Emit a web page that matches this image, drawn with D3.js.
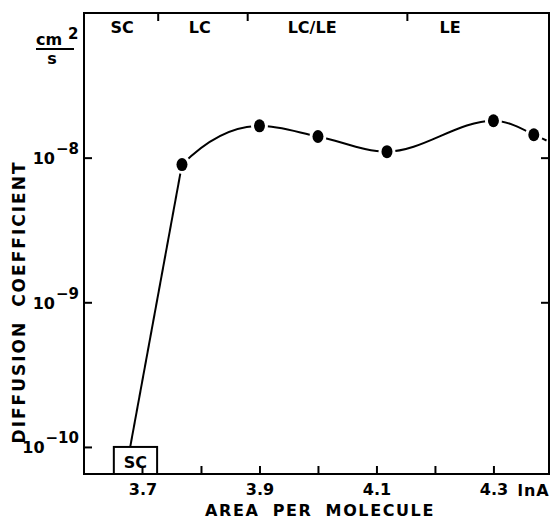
<!DOCTYPE html>
<html>
<head>
<meta charset="utf-8">
<script src="https://cdn.jsdelivr.net/npm/d3@7"></script>
<style>
body { margin: 0; background: #fff; }
text { font-family: "DejaVu Sans", sans-serif; font-weight: bold; fill: #000; }
.axis path { display: none; }
.axis line { stroke: #000; stroke-width: 2px; }
</style>
</head>
<body>
<svg width="554" height="519"></svg>
<script>

// measured points (lnA, D in cm^2/s)
var areaLn = [3.7675, 3.9, 4.0, 4.118, 4.3, 4.369];
var diffCoef = [8.95e-9, 1.66e-8, 1.40e-8, 1.10e-8, 1.80e-8, 1.44e-8];

// solid condensed point (boxed "SC") and the dashed tail going off the right edge
var scPoint = [3.679, 1e-10];
var tailPoint = [4.395, 1.29e-8];

var phaseBounds = [3.726, 3.879, 4.152];
var phaseNames = ["SC", "LC", "LC/LE", "LE"];
var phasePos = [3.665, 3.798, 3.99, 4.226];

var xTicks = [3.7, 3.8, 3.9, 4.0, 4.1, 4.2, 4.3];
var xLabelled = [3.7, 3.9, 4.1, 4.3];
var yTicks = [1e-10, 1e-9, 1e-8];

var svg = d3.select("svg");
var pl = 84, pr = 549, pt = 13, pb = 474;

var x = d3.scaleLinear().domain([3.6, 4.395]).range([pl, pr]);
var y = d3.scaleLog().domain([6.5e-11, 1e-7]).range([pb, pt]);

// frame
svg.append("rect")
    .attr("x", pl).attr("y", pt)
    .attr("width", pr - pl).attr("height", pb - pt)
    .attr("fill", "none").attr("stroke", "#000").attr("stroke-width", 2);

// bottom axis, ticks inward
var xa = svg.append("g").attr("class", "axis")
    .attr("transform", "translate(0," + pb + ")")
    .call(d3.axisBottom(x).tickValues(xTicks).tickSize(-8).tickPadding(10)
      .tickFormat(function(d) { return xLabelled.some(function(v) { return Math.abs(v - d) < 1e-6; }) ? d3.format(".1f")(d) : ""; }));
xa.selectAll("text").attr("font-size", 16).attr("fill", "#000");

svg.append("text")
    .attr("x", x(4.3) + 24).attr("y", 496)
    .attr("font-size", 16)
    .attr("letter-spacing", 1)
    .text("lnA");

// top axis: phase boundaries
svg.append("g").attr("class", "axis")
    .attr("transform", "translate(0," + pt + ")")
    .call(d3.axisTop(x).tickValues(phaseBounds).tickSize(-8).tickFormat(""));

svg.selectAll(".phase")
    .data(phaseNames)
    .enter().append("text")
      .attr("class", "phase")
      .attr("x", function(d, i) { return x(phasePos[i]); })
      .attr("y", 33)
      .attr("text-anchor", "middle")
      .attr("font-size", 16)
      .text(function(d) { return d; });

// left axis
var ya = svg.append("g").attr("class", "axis")
    .attr("transform", "translate(" + pl + ",0)")
    .call(d3.axisLeft(y).tickValues(yTicks).tickSize(-8).tickFormat(""));

ya.selectAll(".tick").each(function(d) {
  var g = d3.select(this);
  var sup = g.append("text")
      .attr("y", -4)
      .attr("text-anchor", "start")
      .attr("font-size", 15)
      .text("\u2212" + Math.round(-Math.log10(d)));
  var w = sup.node().getComputedTextLength();
  var xEnd = -5 - w;
  sup.attr("x", xEnd);
  g.append("text")
      .attr("x", xEnd - 1).attr("y", 6)
      .attr("text-anchor", "end")
      .attr("font-size", 16)
      .text("10");
});

// right axis
svg.append("g").attr("class", "axis")
    .attr("transform", "translate(" + pr + ",0)")
    .call(d3.axisRight(y).tickValues(yTicks.slice(1)).tickSize(-8).tickFormat(""));

// unit cm2/s
svg.append("text").attr("x", 36).attr("y", 45).attr("font-size", 16).text("cm");
svg.append("text").attr("x", 68).attr("y", 39).attr("font-size", 15).text("2");
svg.append("line").attr("x1", 36).attr("x2", 74).attr("y1", 49).attr("y2", 49)
    .attr("stroke", "#000").attr("stroke-width", 2);
svg.append("text").attr("x", 52).attr("y", 64).attr("font-size", 16)
    .attr("text-anchor", "middle").text("s");

// axis titles
svg.append("text")
    .attr("transform", "translate(25,302) rotate(-90)")
    .attr("text-anchor", "middle")
    .attr("font-size", 17)
    .attr("letter-spacing", 2)
    .attr("word-spacing", 6)
    .text("DIFFUSION COEFFICIENT");

svg.append("text")
    .attr("x", 320).attr("y", 516)
    .attr("text-anchor", "middle")
    .attr("font-size", 16)
    .attr("letter-spacing", 1.6)
    .attr("word-spacing", 6)
    .text("AREA PER MOLECULE");

// SC box
var box = svg.append("g");
box.append("rect")
    .attr("x", x(3.651)).attr("y", y(scPoint[1]))
    .attr("width", x(3.725) - x(3.651)).attr("height", pb - y(scPoint[1]))
    .attr("fill", "#fff").attr("stroke", "#000").attr("stroke-width", 2);
box.append("text")
    .attr("x", (x(3.651) + x(3.725)) / 2).attr("y", 468)
    .attr("text-anchor", "middle").attr("font-size", 16)
    .text("SC");
// tick through box bottom again
svg.append("line")
    .attr("x1", x(3.7)).attr("x2", x(3.7))
    .attr("y1", pb).attr("y2", pb - 8)
    .attr("stroke", "#000").attr("stroke-width", 2);

var pts = areaLn.map(function(a, i) { return [a, diffCoef[i]]; });

var lineLin = d3.line()
    .x(function(d) { return x(d[0]); })
    .y(function(d) { return y(d[1]); });
var lineSmooth = d3.line()
    .x(function(d) { return x(d[0]); })
    .y(function(d) { return y(d[1]); })
    .curve(d3.curveMonotoneX);

// straight rise from the SC point to the first LC point
svg.append("path")
    .attr("d", lineLin([scPoint, pts[0]]))
    .attr("fill", "none").attr("stroke", "#000").attr("stroke-width", 2);

// smooth curve through all points, shown only from the first LC point on
svg.append("clipPath").attr("id", "fromLC")
  .append("rect")
    .attr("x", x(pts[0][0])).attr("y", pt)
    .attr("width", pr - x(pts[0][0])).attr("height", pb - pt);

svg.append("path")
    .attr("d", lineSmooth([scPoint].concat(pts)))
    .attr("clip-path", "url(#fromLC)")
    .attr("fill", "none").attr("stroke", "#000").attr("stroke-width", 2);

svg.append("path")
    .attr("d", lineLin([pts[pts.length - 1], tailPoint]))
    .attr("fill", "none").attr("stroke", "#000").attr("stroke-width", 2)
    .attr("stroke-dasharray", "5,4");

// dots with a white halo to break the line
svg.selectAll(".dot")
    .data(pts)
    .enter().append("ellipse")
      .attr("class", "dot")
      .attr("cx", function(d) { return x(d[0]); })
      .attr("cy", function(d) { return y(d[1]); })
      .attr("rx", 5.5).attr("ry", 6.5)
      .attr("fill", "#000")
      .attr("stroke", "#fff").attr("stroke-width", 6)
      .attr("paint-order", "stroke");

</script>
</body>
</html>
